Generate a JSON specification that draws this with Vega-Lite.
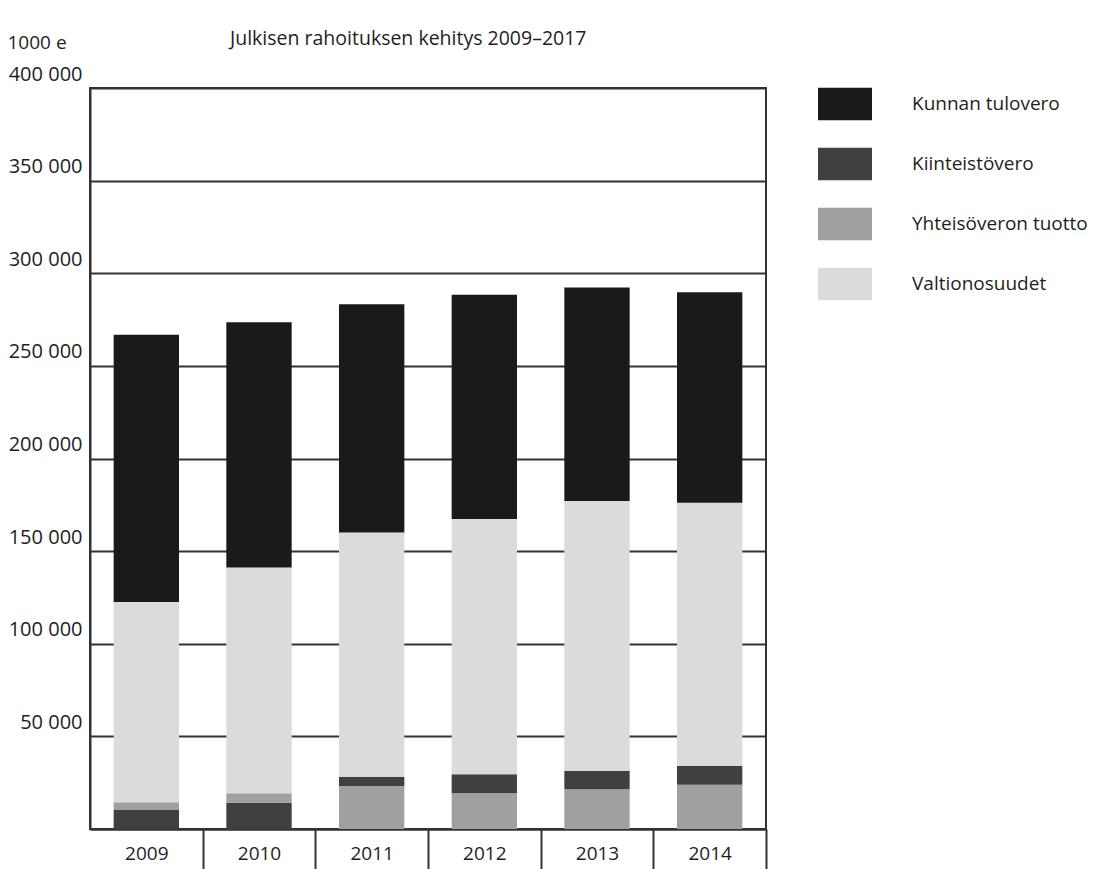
{
  "$schema": "https://vega.github.io/schema/vega-lite/v6.json",
  "width": 676,
  "height": 741,
  "autosize": {"type": "none"},
  "padding": {"left": 90, "top": 88, "right": 332, "bottom": 40},
  "background": "white",
  "title": {
    "text": "Julkisen rahoituksen kehitys 2009–2017",
    "anchor": "start",
    "dx": 223,
    "offset": 0,
    "dy": 16,
    "fontSize": 19.5,
    "font": "Open Sans",
    "fontWeight": "normal",
    "color": "#1e1e1e"
  },
  "config": {
    "locale": {"number": {"decimal": ",", "thousands": " ", "grouping": [3], "currency": ["", " €"]}},
    "view": {"stroke": "#333", "strokeWidth": 2},
    "font": "Open Sans"
  },
  "data": {
    "values": [
      {"year": "2009", "category": "Kiinteistövero", "value": 10300, "pos": 1},
      {"year": "2009", "category": "Yhteisöveron tuotto", "value": 4200, "pos": 2},
      {"year": "2009", "category": "Valtionosuudet", "value": 108000, "pos": 3},
      {"year": "2009", "category": "Kunnan tulovero", "value": 144300, "pos": 4},
      {"year": "2010", "category": "Kiinteistövero", "value": 14200, "pos": 1},
      {"year": "2010", "category": "Yhteisöveron tuotto", "value": 5100, "pos": 2},
      {"year": "2010", "category": "Valtionosuudet", "value": 121800, "pos": 3},
      {"year": "2010", "category": "Kunnan tulovero", "value": 132500, "pos": 4},
      {"year": "2011", "category": "Yhteisöveron tuotto", "value": 23200, "pos": 1},
      {"year": "2011", "category": "Kiinteistövero", "value": 5000, "pos": 2},
      {"year": "2011", "category": "Valtionosuudet", "value": 131900, "pos": 3},
      {"year": "2011", "category": "Kunnan tulovero", "value": 123100, "pos": 4},
      {"year": "2012", "category": "Yhteisöveron tuotto", "value": 19300, "pos": 1},
      {"year": "2012", "category": "Kiinteistövero", "value": 10300, "pos": 2},
      {"year": "2012", "category": "Valtionosuudet", "value": 137700, "pos": 3},
      {"year": "2012", "category": "Kunnan tulovero", "value": 121100, "pos": 4},
      {"year": "2013", "category": "Yhteisöveron tuotto", "value": 21400, "pos": 1},
      {"year": "2013", "category": "Kiinteistövero", "value": 10000, "pos": 2},
      {"year": "2013", "category": "Valtionosuudet", "value": 145700, "pos": 3},
      {"year": "2013", "category": "Kunnan tulovero", "value": 115200, "pos": 4},
      {"year": "2014", "category": "Yhteisöveron tuotto", "value": 23900, "pos": 1},
      {"year": "2014", "category": "Kiinteistövero", "value": 10100, "pos": 2},
      {"year": "2014", "category": "Valtionosuudet", "value": 142100, "pos": 3},
      {"year": "2014", "category": "Kunnan tulovero", "value": 113600, "pos": 4}
    ]
  },
  "mark": {"type": "bar", "width": {"band": 0.58}},
  "encoding": {
    "x": {
      "field": "year",
      "type": "nominal",
      "scale": {"paddingInner": 0, "paddingOuter": 0},
      "axis": {
        "title": null,
        "labelAngle": 0,
        "labelFontSize": 19,
        "labelColor": "#1e1e1e",
        "labelFont": "Open Sans",
        "tickBand": "extent",
        "tickSize": 42,
        "tickWidth": 2,
        "tickColor": {"condition": {"test": "datum.extra", "value": "rgba(0,0,0,0)"}, "value": "#333"},
        "labelPadding": -27,
        "domainColor": "#333",
        "domainWidth": 2
      }
    },
    "y": {
      "field": "value",
      "type": "quantitative",
      "stack": "zero",
      "scale": {"domain": [0, 400000], "nice": false},
      "axis": {
        "title": "1000 e",
        "titleAngle": 0,
        "titleX": -83,
        "titleY": -46,
        "titleAlign": "left",
        "titleBaseline": "middle",
        "titleFontSize": 19,
        "titleFontWeight": "normal",
        "titleColor": "#1e1e1e",
        "titleFont": "Open Sans",
        "values": [0, 50000, 100000, 150000, 200000, 250000, 300000, 350000, 400000],
        "format": ",d",
        "labelExpr": "datum.value == 0 ? '' : datum.label",
        "labelFontSize": 20,
        "labelColor": "#1e1e1e",
        "labelFont": "Open Sans",
        "labelBaseline": "alphabetic",
        "labelOffset": -8,
        "labelPadding": 8,
        "ticks": false,
        "grid": true,
        "gridColor": "#333",
        "gridWidth": 2,
        "gridOpacity": 1,
        "domainColor": "#333",
        "domainWidth": 2
      }
    },
    "color": {
      "field": "category",
      "type": "nominal",
      "scale": {
        "domain": ["Kunnan tulovero", "Kiinteistövero", "Yhteisöveron tuotto", "Valtionosuudet"],
        "range": ["#1a1a1a", "#404040", "#a0a0a0", "#dcdbdc"]
      },
      "legend": {
        "title": null,
        "orient": "none",
        "legendX": 728,
        "legendY": -11,
        "symbolType": "M-1,-0.6L1,-0.6L1,0.6L-1,0.6Z",
        "symbolSize": 2916,
        "symbolStrokeWidth": 0,
        "symbolOpacity": 1,
        "labelFontSize": 19,
        "labelFont": "Open Sans",
        "labelColor": "#1e1e1e",
        "labelOffset": 40,
        "labelLimit": 300,
        "rowPadding": 16
      }
    },
    "order": {"field": "pos", "type": "quantitative"}
  }
}
